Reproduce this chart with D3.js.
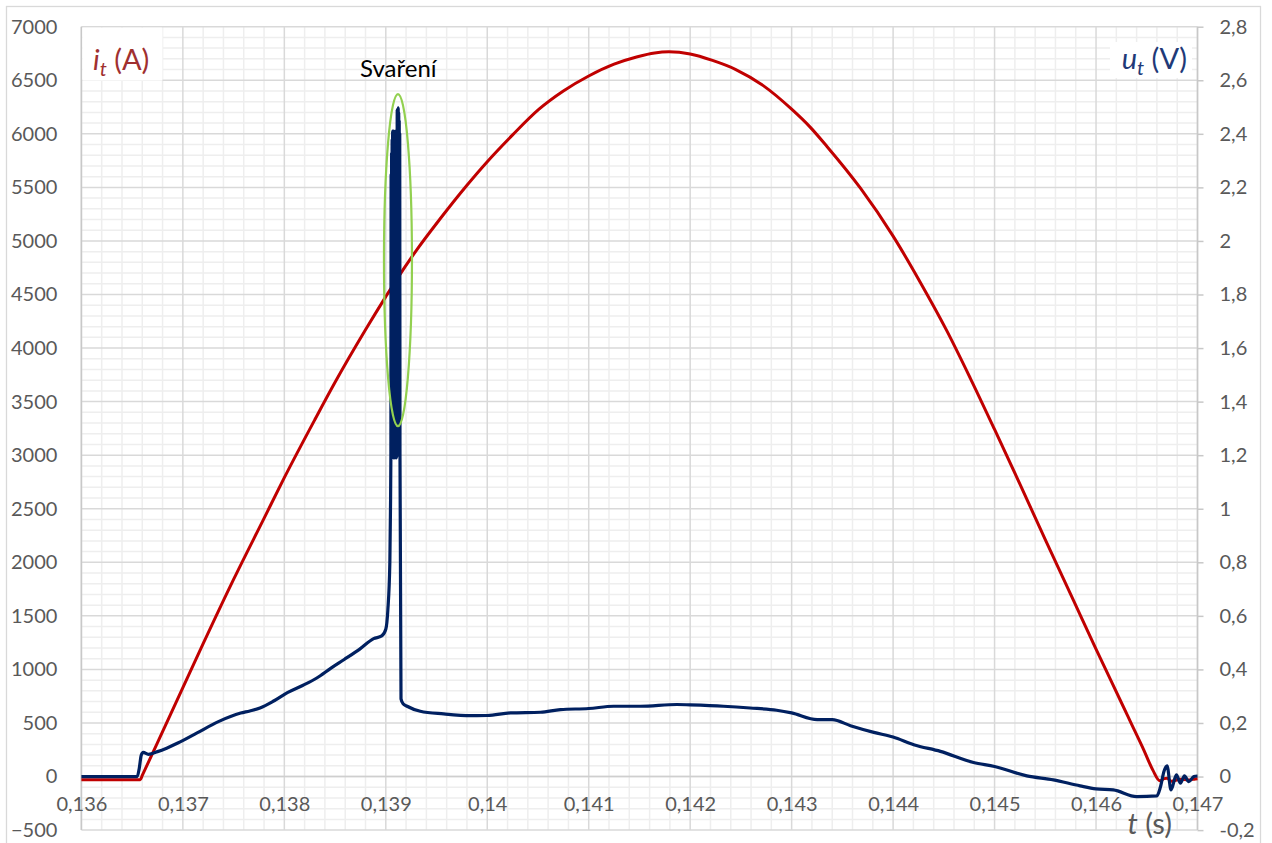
<!DOCTYPE html>
<html><head><meta charset="utf-8">
<script src="https://cdn.jsdelivr.net/npm/d3@7/dist/d3.min.js"></script>
<style>body{margin:0;background:#fff}svg{display:block}</style>
</head><body>
<svg id="chart" width="1272" height="843"></svg>
<script>
// ---------- data ----------
const tCurrent = [0.136, 0.1363, 0.13658, 0.1366, 0.1368, 0.137, 0.1372, 0.1375, 0.1378, 0.138, 0.1383, 0.1385, 0.1388, 0.139, 0.1391, 0.1393, 0.13953, 0.1398, 0.14, 0.14025, 0.14051, 0.14075, 0.141, 0.14125, 0.14148, 0.14165, 0.14179, 0.142, 0.14222, 0.14245, 0.14272, 0.143, 0.14318, 0.14335, 0.14368, 0.144, 0.14427, 0.14453, 0.14476, 0.145, 0.14525, 0.14551, 0.14578, 0.146, 0.14624, 0.14635, 0.14647, 0.14656, 0.14663, 0.14667, 0.1467, 0.14674, 0.14683, 0.14691, 0.14698, 0.147];
const iCurrent = [-30, -30, -30, 10, 420, 830, 1240, 1840, 2410, 2790, 3330, 3680, 4170, 4480, 4630, 4910, 5200, 5520, 5740, 5990, 6230, 6400, 6540, 6650, 6720, 6755, 6765, 6745, 6685, 6600, 6450, 6230, 6065, 5880, 5490, 5045, 4610, 4160, 3720, 3240, 2730, 2190, 1640, 1190, 710, 490, 250, 60, -40, -20, -15, -45, -25, -32, -22, -20];

const tVoltage = [0.136, 0.13655, 0.13657, 0.13659, 0.13661, 0.13666, 0.13675, 0.13684, 0.13695, 0.13714, 0.13735, 0.13757, 0.13766, 0.13776, 0.1379, 0.13803, 0.13818, 0.13832, 0.13846, 0.13859, 0.13874, 0.13888, 0.13896, 0.139, 0.13902, 0.13904,
  0.139046, 0.13905, 0.1390525, 0.139055, 0.1390575, 0.13906, 0.1390625, 0.139065, 0.1390675, 0.13907, 0.1390725, 0.139075, 0.1390775, 0.13908, 0.1390825, 0.139085, 0.1390875, 0.13909, 0.1390925, 0.139095, 0.1390975, 0.1391, 0.1391025, 0.139105, 0.1391075, 0.13911, 0.1391125, 0.139115, 0.1391175, 0.13912, 0.1391225, 0.139125, 0.1391275, 0.13913, 0.1391325, 0.139135, 0.1391375, 0.13914,
  0.13915, 0.13917, 0.13921, 0.13934, 0.13957, 0.13984, 0.14, 0.14023, 0.140525, 0.140721, 0.141, 0.141246, 0.141508, 0.141869, 0.142, 0.142328, 0.14259, 0.142852, 0.143, 0.143252, 0.1434, 0.14358, 0.14381, 0.144, 0.144203, 0.144466, 0.144793, 0.145, 0.145318, 0.14558, 0.145843, 0.146, 0.14617, 0.1464, 0.1466, 0.146634, 0.14667, 0.1467, 0.146739, 0.146792, 0.146832, 0.146871, 0.146914, 0.146964, 0.147];
const uVoltage = [0, 0, 0.03, 0.08, 0.09, 0.083, 0.093, 0.106, 0.125, 0.163, 0.205, 0.237, 0.245, 0.256, 0.283, 0.313, 0.34, 0.368, 0.405, 0.437, 0.475, 0.515, 0.525, 0.55, 0.62, 0.8,
  0.99, 1.19, 2.25, 1.2, 2.33, 1.19, 2.38, 1.2, 2.41, 1.21, 2.36, 1.19, 2.41, 1.2, 2.39, 1.22, 2.4, 1.19, 2.35, 1.2, 2.41, 1.21, 2.3, 1.19, 2.38, 1.2, 2.49, 1.22, 2.46, 1.2, 2.497, 1.25, 2.48, 1.2, 2.45, 1.3, 2.4, 1.19,
  0.29, 0.272, 0.2625, 0.244, 0.234, 0.2275, 0.228, 0.2375, 0.24, 0.25, 0.254, 0.2625, 0.2625, 0.269, 0.2675, 0.2625, 0.256, 0.2475, 0.2375, 0.2125, 0.2125, 0.19, 0.165, 0.1475, 0.119, 0.094, 0.0525, 0.0375, 0.0025, -0.0125, -0.035, -0.046, -0.05, -0.075, -0.072, -0.04, 0.02, 0.04, -0.05, 0.006, -0.025, 0.0025, -0.019, 0, 0.002];

const xTicks = [0.136, 0.137, 0.138, 0.139, 0.14, 0.141, 0.142, 0.143, 0.144, 0.145, 0.146, 0.147];
const xTickLabels = ["0,136", "0,137", "0,138", "0,139", "0,14", "0,141", "0,142", "0,143", "0,144", "0,145", "0,146", "0,147"];
const leftTicks = [-500, 0, 500, 1000, 1500, 2000, 2500, 3000, 3500, 4000, 4500, 5000, 5500, 6000, 6500, 7000];
const rightTicks = [-0.2, 0, 0.2, 0.4, 0.6, 0.8, 1, 1.2, 1.4, 1.6, 1.8, 2, 2.2, 2.4, 2.6, 2.8];
const rightTickLabels = ["-0,2", "0", "0,2", "0,4", "0,6", "0,8", "1", "1,2", "1,4", "1,6", "1,8", "2", "2,2", "2,4", "2,6", "2,8"];

// ---------- layout ----------
const L = 81.4, R = 1197.5, T = 26.7, B = 830.1;
const FONT = "Lato, 'Open Sans', sans-serif";
const svg = d3.select("#chart");

const x = d3.scaleLinear().domain([0.136, 0.147]).range([L, R]);
const yL = d3.scaleLinear().domain([-500, 7000]).range([B, T]);
const yR = d3.scaleLinear().domain([-0.2, 2.8]).range([B, T]);

// outer chart border
svg.append("rect").attr("x", 6.5).attr("y", 6.5).attr("width", 1254).attr("height", 860)
  .attr("fill", "#fff").attr("stroke", "#d9d9d9").attr("stroke-width", 1.3);

// minor gridlines
const minorX = d3.range(0, 56).map(k => 0.136 + k * 0.0002).filter((v, k) => k % 5 !== 0);
const minorY = d3.range(-500, 7001, 100).filter(v => v % 500 !== 0);
const g = svg.append("g");
g.selectAll(".mx").data(minorX).join("line")
  .attr("x1", d => x(d)).attr("x2", d => x(d)).attr("y1", T).attr("y2", B)
  .attr("stroke", "#eeeeee").attr("stroke-width", 1.5);
g.selectAll(".my").data(minorY).join("line")
  .attr("x1", L).attr("x2", R).attr("y1", d => yL(d)).attr("y2", d => yL(d))
  .attr("stroke", "#eeeeee").attr("stroke-width", 1.5);
// major gridlines
g.selectAll(".Mx").data(xTicks).join("line")
  .attr("x1", d => x(d)).attr("x2", d => x(d)).attr("y1", T).attr("y2", B)
  .attr("stroke", "#d9d9d9").attr("stroke-width", 1.5);
g.selectAll(".My").data(leftTicks).join("line")
  .attr("x1", L).attr("x2", R).attr("y1", d => yL(d)).attr("y2", d => yL(d))
  .attr("stroke", "#d9d9d9").attr("stroke-width", 1.5);

// axes lines
svg.append("line").attr("x1", L).attr("x2", L).attr("y1", T).attr("y2", B).attr("stroke", "#c8c8c8").attr("stroke-width", 1.5);
svg.append("line").attr("x1", R).attr("x2", R).attr("y1", T).attr("y2", B).attr("stroke", "#c8c8c8").attr("stroke-width", 1.5);
svg.append("line").attr("x1", L).attr("x2", R).attr("y1", yL(0)).attr("y2", yL(0)).attr("stroke", "#cfcfcf").attr("stroke-width", 1.5);

// right axis with outward ticks
const rightAxis = d3.axisRight(yR).tickValues(rightTicks).tickSize(6).tickPadding(16)
  .tickFormat((d, i) => rightTickLabels[i]);
const ra = svg.append("g").attr("transform", `translate(${R},0)`).call(rightAxis);
ra.select(".domain").remove();
ra.selectAll(".tick line").attr("stroke", "#c8c8c8").attr("stroke-width", 1.5);
ra.selectAll(".tick text").attr("fill", "#595959").style("font-family", FONT).style("font-size", "20px");

// left axis labels (no ticks)
const leftAxis = d3.axisLeft(yL).tickValues(leftTicks).tickSize(0).tickPadding(24).tickFormat(d3.format("d"));
const la = svg.append("g").attr("transform", `translate(${L},0)`).call(leftAxis);
la.select(".domain").remove();
la.selectAll(".tick text").attr("fill", "#595959").style("font-family", FONT).style("font-size", "20px");

// x axis labels just below the zero line
const bottomAxis = d3.axisBottom(x).tickValues(xTicks).tickSize(0).tickPadding(20)
  .tickFormat((d, i) => xTickLabels[i]);
const ba = svg.append("g").attr("transform", `translate(0,${yL(0)})`).call(bottomAxis);
ba.select(".domain").remove();
ba.selectAll(".tick text").attr("fill", "#595959").style("font-family", FONT).style("font-size", "20px");

// white boxes behind the axis title labels
svg.append("rect").attr("x", L + 1).attr("y", T + 1).attr("width", 80).attr("height", 53).attr("fill", "#fff");
svg.append("rect").attr("x", 1110).attr("y", 42).attr("width", 82).attr("height", 36).attr("fill", "#fff");

// series
const redLine = d3.line().x((d, i) => x(tCurrent[i])).y(d => yL(d)).curve(d3.curveMonotoneX);
svg.append("path").attr("d", redLine(iCurrent)).attr("fill", "none")
  .attr("stroke", "#c00000").attr("stroke-width", 3).attr("stroke-linejoin", "round");

const blueLine = d3.line().x((d, i) => x(tVoltage[i])).y(d => yR(d)).curve(d3.curveMonotoneX);
svg.append("path").attr("d", blueLine(uVoltage)).attr("fill", "none")
  .attr("stroke", "#002060").attr("stroke-width", 3.2).attr("stroke-linejoin", "round");

// green highlight ellipse
svg.append("ellipse").attr("cx", x(0.13912)).attr("cy", yL(4820)).attr("rx", 14).attr("ry", 166)
  .attr("fill", "none").attr("stroke", "#92d050").attr("stroke-width", 2.2);

// annotation texts
svg.append("text").attr("x", 360).attr("y", 77).attr("fill", "#000")
  .style("font-family", FONT).style("font-size", "24px").text("Svaření");

const it = svg.append("text").attr("x", 93).attr("y", 70).attr("fill", "#a03030")
  .style("font-family", FONT).style("font-size", "29px");
it.append("tspan").attr("font-style", "italic").text("i");
it.append("tspan").attr("font-style", "italic").attr("font-size", "20px").attr("dy", 6).text("t");
it.append("tspan").attr("dy", -6).text(" (A)");

const ut = svg.append("text").attr("x", 1187).attr("y", 69).attr("text-anchor", "end").attr("fill", "#1f3a78")
  .style("font-family", FONT).style("font-size", "29px");
ut.append("tspan").attr("font-style", "italic").text("u");
ut.append("tspan").attr("font-style", "italic").attr("font-size", "20px").attr("dy", 6).text("t");
ut.append("tspan").attr("dy", -6).text(" (V)");

const ts = svg.append("text").attr("x", 1172).attr("y", 834).attr("text-anchor", "end").attr("fill", "#595959")
  .style("font-family", FONT).style("font-size", "29px");
ts.append("tspan").attr("font-style", "italic").text("t");
ts.append("tspan").text(" (s)");
</script>
</body></html>
